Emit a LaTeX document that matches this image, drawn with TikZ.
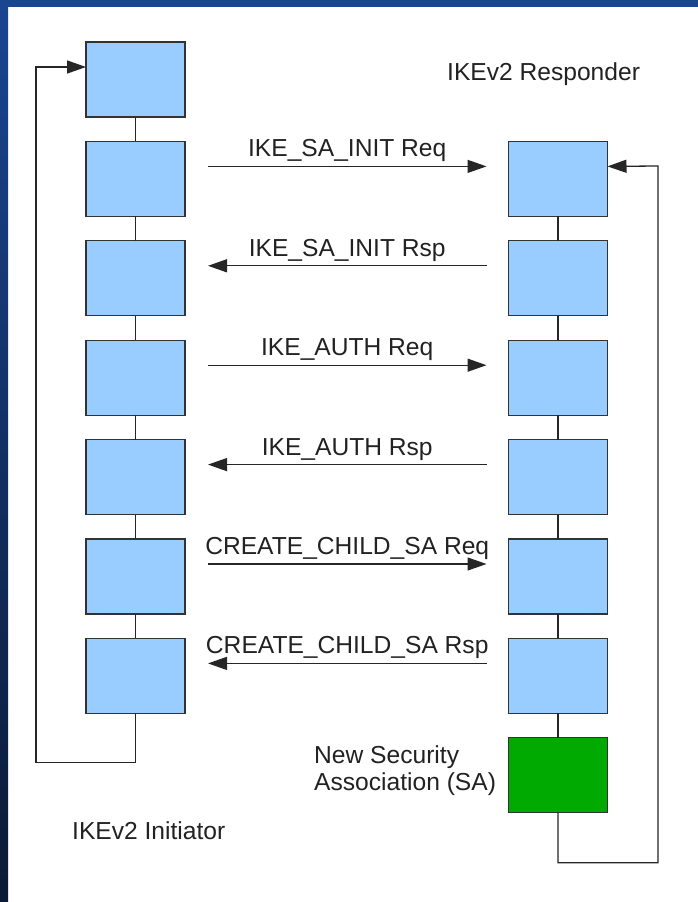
\documentclass[tikz,border=0pt]{standalone}
\usepackage{fontspec}
\setmainfont{Liberation Sans}
\usetikzlibrary{arrows.meta}
\definecolor{boxblue}{HTML}{99CCFF}
\definecolor{sagreen}{HTML}{00AA00}
\definecolor{frametop}{HTML}{1A4590}
\definecolor{framebot}{HTML}{0B1A35}
\definecolor{txt}{HTML}{222222}
\begin{document}
\begin{tikzpicture}[x=1pt,y=-1pt,
  stage/.style={draw=black!80, line width=1.3pt, fill=boxblue, minimum width=99pt, minimum height=75pt, inner sep=0pt, outer sep=0pt},
  link/.style={draw=black!85, line width=1.3pt},
  msg/.style={link, -{Triangle[length=19pt,width=13pt]}},
  lbl/.style={font=\fontsize{24.6}{27}\selectfont, text=txt, inner sep=0pt, anchor=base}]
\useasboundingbox (0,0) rectangle (698,902);
\fill[white] (0,0) rectangle (698,902);
\shade[top color=frametop, bottom color=framebot] (0,0) rectangle (8,902);
\fill[frametop] (0,0) rectangle (698,7);

% initiator stages
\node[stage] (L1) at (135.5,79.5) {};
\node[stage] (L2) at (135.5,178.9) {};
\node[stage] (L3) at (135.5,278.3) {};
\node[stage] (L4) at (135.5,377.7) {};
\node[stage] (L5) at (135.5,477.1) {};
\node[stage] (L6) at (135.5,576.5) {};
\node[stage] (L7) at (135.5,675.9) {};
% responder stages
\node[stage] (R1) at (558,178.9) {};
\node[stage] (R2) at (558,278.3) {};
\node[stage] (R3) at (558,377.7) {};
\node[stage] (R4) at (558,477.1) {};
\node[stage] (R5) at (558,576.5) {};
\node[stage] (R6) at (558,675.9) {};
\node[stage, fill=sagreen] (G) at (558,775.3) {};

% vertical links
\draw[link] (L1.south) -- (L2.north);
\draw[link] (L2.south) -- (L3.north);
\draw[link] (L3.south) -- (L4.north);
\draw[link] (L4.south) -- (L5.north);
\draw[link] (L5.south) -- (L6.north);
\draw[link] (L6.south) -- (L7.north);
\draw[link] (R1.south) -- (R2.north);
\draw[link] (R2.south) -- (R3.north);
\draw[link] (R3.south) -- (R4.north);
\draw[link] (R4.south) -- (R5.north);
\draw[link] (R5.south) -- (R6.north);
\draw[link] (R6.south) -- (G.north);

% loops
\draw[msg] (L7.south) -- ++(0,49) -| (36,67) -- ([shift={(0,25)}]L1.north west);
\draw[msg] (G.south) -- ++(0,50) -| (658,166) -- ([shift={(0,25)}]R1.north east);

% messages
\draw[msg] ([shift={(23,25)}]L2.north east) -- coordinate[midway] (m1) ([shift={(-22,25)}]R1.north west);
\draw[msg] ([shift={(-22,25)}]R2.north west) -- coordinate[midway] (m2) ([shift={(23,25)}]L3.north east);
\draw[msg] ([shift={(23,25)}]L4.north east) -- coordinate[midway] (m3) ([shift={(-22,25)}]R3.north west);
\draw[msg] ([shift={(-22,25)}]R4.north west) -- coordinate[midway] (m4) ([shift={(23,25)}]L5.north east);
\draw[msg] ([shift={(23,25)}]L6.north east) -- coordinate[midway] (m5) ([shift={(-22,25)}]R5.north west);
\draw[msg] ([shift={(-22,25)}]R6.north west) -- coordinate[midway] (m6) ([shift={(23,25)}]L7.north east);

\node[lbl] (t1) at ([shift={(0,-9.5)}]m1) {IKE\_SA\_INIT Req};
\node[lbl] (t2) at ([shift={(0,-9.5)}]m2) {IKE\_SA\_INIT Rsp};
\node[lbl] (t3) at ([shift={(0,-9.5)}]m3) {IKE\_AUTH Req};
\node[lbl] (t4) at ([shift={(0,-9.5)}]m4) {IKE\_AUTH Rsp};
\node[lbl] (t5) at ([shift={(0,-9.5)}]m5) {CREATE\_CHILD\_SA Req};
\node[lbl] (t6) at ([shift={(0,-9.5)}]m6) {CREATE\_CHILD\_SA Rsp};

\node[lbl, anchor=base west] (resp) at (447,80) {IKEv2 Responder};
\node[lbl, anchor=base west] (init) at (72,839) {IKEv2 Initiator};
\node[lbl, anchor=north west, align=left] (newsa) at (314,745) {New Security\\Association (SA)};
\end{tikzpicture}
\end{document}
